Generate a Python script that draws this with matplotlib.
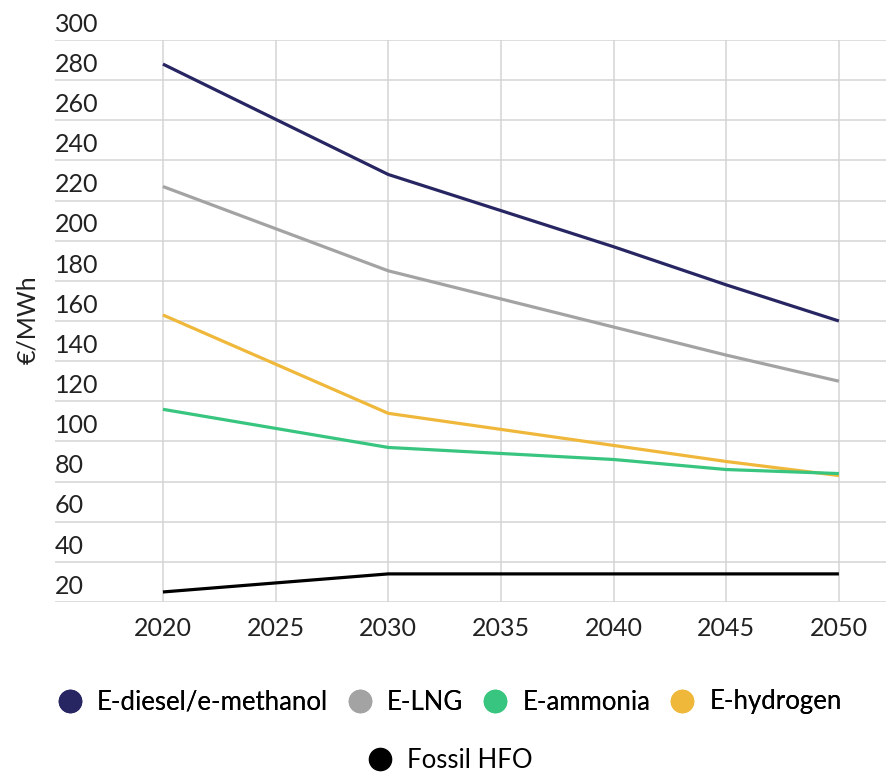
import matplotlib.pyplot as plt
from matplotlib.lines import Line2D
import matplotlib.transforms as mtransforms

plt.rcParams['font.family'] = ['Lato', 'DejaVu Sans']

# data
years = [2020, 2030, 2035, 2040, 2045, 2050]
e_diesel = [288, 233, 215, 197, 178, 160]
e_lng = [227, 185, 171, 157, 143, 130]
e_ammonia = [116, 97, 94, 91, 86, 84]
e_hydrogen = [163, 114, 106, 98, 90, 83]
fossil_hfo = [25, 34, 34, 34, 34, 34]

series_names = ['E-diesel/e-methanol', 'E-LNG', 'E-ammonia', 'E-hydrogen', 'Fossil HFO']
series_vals = [e_diesel, e_lng, e_ammonia, e_hydrogen, fossil_hfo]
colors = ['#272663', '#a3a3a3', '#38c57f', '#f0b83a', '#000000']

x_ticks = [2020, 2025, 2030, 2035, 2040, 2045, 2050]
y_ticks = list(range(20, 301, 20))

fig = plt.figure(figsize=(8.86, 7.74), dpi=100)
ax = fig.add_axes([55/886, 1 - 602/774, 1 - 55/886, (602 - 40)/774])

# draw in reverse so the diesel line sits on top like the original
for name, vals, c in reversed(list(zip(series_names, series_vals, colors))):
    ax.plot(years, vals, color=c, lw=2.3, solid_joinstyle='round', solid_capstyle='butt', zorder=3)

ax.set_xlim(2015.21, 2052.09)
ax.set_ylim(20, 300)
ax.set_xticks(x_ticks)
ax.set_yticks(y_ticks)
ax.set_yticklabels([])
ax.tick_params(axis='both', length=0)
ax.tick_params(axis='x', labelsize=18, pad=11, colors='#222222')
ax.grid(True, color='#d4d4d4', lw=1.1)
for s in ax.spines.values():
    s.set_visible(False)

# y labels sit just above their gridlines, like the source
trans = mtransforms.blended_transform_factory(ax.transAxes, ax.transData)
trans = mtransforms.offset_copy(trans, fig=fig, x=0, y=6, units='points')
for v in y_ticks:
    ax.text(0, v, str(v), transform=trans, ha='left', va='baseline',
            fontsize=18, color='#222222', zorder=4)

fig.text(28/886, 1 - 320/774, '€/MWh', rotation=90, ha='center', va='center',
         fontsize=18, color='#222222')

handles = [Line2D([], [], marker='o', ls='none', markersize=16, color=c) for c in colors]
leg1 = fig.legend(handles[:4], series_names[:4], loc='center', ncol=4,
                  bbox_to_anchor=(0.507, 1 - 702/774), frameon=False, fontsize=18.5,
                  handletextpad=0.55, columnspacing=0.75, handlelength=1.0)
fig.add_artist(leg1)
fig.legend(handles[4:], series_names[4:], loc='center',
           bbox_to_anchor=(0.508, 1 - 760/774), frameon=False, fontsize=18.5,
           handletextpad=0.55, handlelength=1.0)

fig.savefig('out.png', dpi=100)
